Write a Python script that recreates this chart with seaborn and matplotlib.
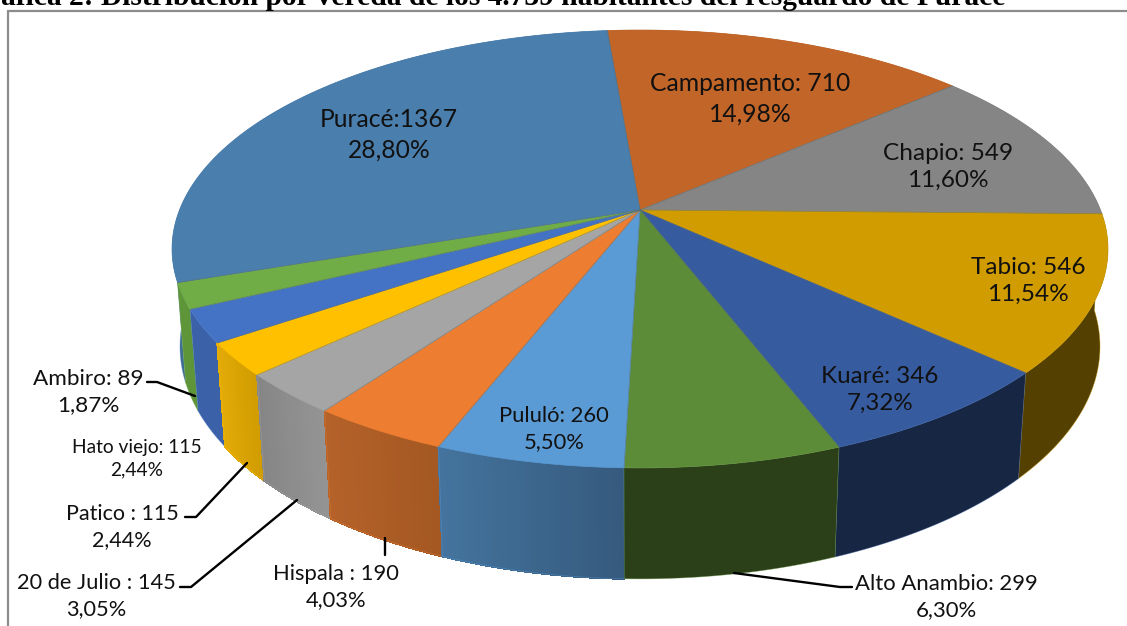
import numpy as np
import matplotlib
matplotlib.use('Agg')
import matplotlib.pyplot as plt
import seaborn as sns

# data (starts at the back, clockwise)
veredas = ['Campamento: ', 'Chapio: ', 'Tabio: ', 'Kuaré: ', 'Alto Anambio: ', 'Pululó: ', 'Hispala : ',
           '20 de Julio : ', 'Patico : ', 'Hato viejo: ', 'Ambiro: ', 'Puracé:']
habitantes = [710, 549, 546, 346, 299, 260, 190, 145, 115, 115, 89, 1367]
porcentajes = ['14,98%', '11,60%', '11,54%', '7,32%', '6,30%', '5,50%', '4,03%', '3,05%', '2,44%', '2,44%', '1,87%', '28,80%']
titulo = 'Gráfica 2: Distribución por vereda de los 4.739 habitantes del resguardo de Puracé'

# colours
top_colors = ['#C26528', '#858585', '#D09C00', '#375B9F', '#5C8C38', '#5B9BD5', '#ED7D31', '#A5A5A5', '#FFC000', '#4472C4', '#70AD47', '#4A7EAD']
side_a = ['#8F4A1D', '#616161', '#544000', '#172643', '#2B3F19', '#365A7E', '#A45822', '#949494', '#D09C00', '#3B62A8', '#5F9539', '#3F6C94']
side_b = ['#8F4A1D', '#616161', '#544000', '#172643', '#2B3F19', '#44749E', '#B5622A', '#858585', '#E3AB08', '#3B62A8', '#5F9539', '#3F6C94']

# where the text goes (pixels)
label_pos = [(750, 99), (948, 167), (1028, 281), (880, 390), (946, 597), (554, 429), (336, 587),
             (96, 596), (122, 527), (137, 459), (88, 392), (389, 135)]
label_size = [17.7, 17.6, 17.6, 17.4, 15.9, 15.8, 15.8, 15.7, 15.5, 13.8, 16.2, 17.7]
leaders = [([147, 157, 195], [382, 382, 396]),
           ([185, 196, 247], [517, 517, 463]),
           ([180, 191, 297], [587, 587, 500]),
           ([385, 385], [538, 555]),
           ([734, 840, 852], [573, 587, 587])]

# perspective of the pie
cx, cy = 640, 210
A, B, C, k, m = 460.5, 212, 97.4, 0.178, 0.0168
start = np.radians(-4.8)


def project(theta, z=0.0, r=1.0):
    u = r * np.sin(theta)
    v = -r * np.cos(theta)
    d = 1 - k * v + m * z
    return cx + A * u / d, cy + (B * v + C * z) / d


sns.set_theme(style='white')
fig = plt.figure(figsize=(11.27, 6.26), dpi=100)
ax = fig.add_axes([0, 0, 1, 1])
ax.set_xlim(0, 1127)
ax.set_ylim(626, 0)
ax.axis('off')

shares = np.array(habitantes) / sum(habitantes)
edges = start + 2 * np.pi * np.concatenate([[0], np.cumsum(shares)])
mids = (edges[:-1] + edges[1:]) / 2

# outer wall, back slices first
for i in np.argsort(-np.cos(mids)):
    ca = np.array(matplotlib.colors.to_rgb(side_a[i]))
    cb = np.array(matplotlib.colors.to_rgb(side_b[i]))
    tt = np.linspace(edges[i], edges[i + 1], 120)
    x0, y0 = project(tt)
    x1, y1 = project(tt, 1.0)
    # base colour first so the strip seams don't show
    ax.fill(np.r_[x0, x1[::-1]], np.r_[y0, y1[::-1]], color=(ca + cb) / 2, lw=0, zorder=2)
    if side_a[i] != side_b[i]:
        n = max(int(shares[i] * 600), 2)
        ts = np.linspace(edges[i], edges[i + 1], n + 1)
        for j in range(n):
            sx0, sy0 = project(ts[j:j + 2])
            sx1, sy1 = project(ts[j:j + 2], 1.0)
            ax.fill(np.r_[sx0, sx1[::-1]], np.r_[sy0, sy1[::-1]], color=ca + (cb - ca) * j / n, lw=0.8, aa=False, zorder=2)
    # fringe around the wall
    ax.plot(np.r_[x0[0], x1, x0[-1]], np.r_[y0[0], y1, y0[-1]], color=top_colors[i], lw=0.5, alpha=0.5, zorder=2)

# top of the slices
for i in range(len(habitantes)):
    ts = np.linspace(edges[i], edges[i + 1], 120)
    x, y = project(ts)
    ax.fill(np.r_[cx, x], np.r_[cy, y], facecolor=top_colors[i], edgecolor=top_colors[i], lw=0.5, zorder=3)
for i in range(len(habitantes)):
    x, y = project(edges[i])
    ax.plot([cx, x], [cy, y], color='#5a6b70', lw=0.5, alpha=0.6, zorder=4)

for xs, ys in leaders:
    ax.plot(xs, ys, color='black', lw=1.7, zorder=5, solid_joinstyle='round')

for i in range(len(habitantes)):
    ax.text(label_pos[i][0], label_pos[i][1], f'{veredas[i]}{habitantes[i]}\n{porcentajes[i]}',
            ha='center', va='center', ma='center', fontsize=label_size[i], family='Lato',
            color='#111111', linespacing=1.38, zorder=6)

# frame of the picture and title cut by the top edge
ax.plot([8, 8], [11, 626], color='#8c8c8c', lw=1.6, zorder=1)
ax.plot([8, 1127], [11, 11], color='#8c8c8c', lw=1.6, zorder=1)
ax.text(1005, 5, titulo, ha='right', va='baseline', fontsize=21.27, fontweight='bold', family='Liberation Serif', color='black')

fig.savefig('out.png', dpi=100)
